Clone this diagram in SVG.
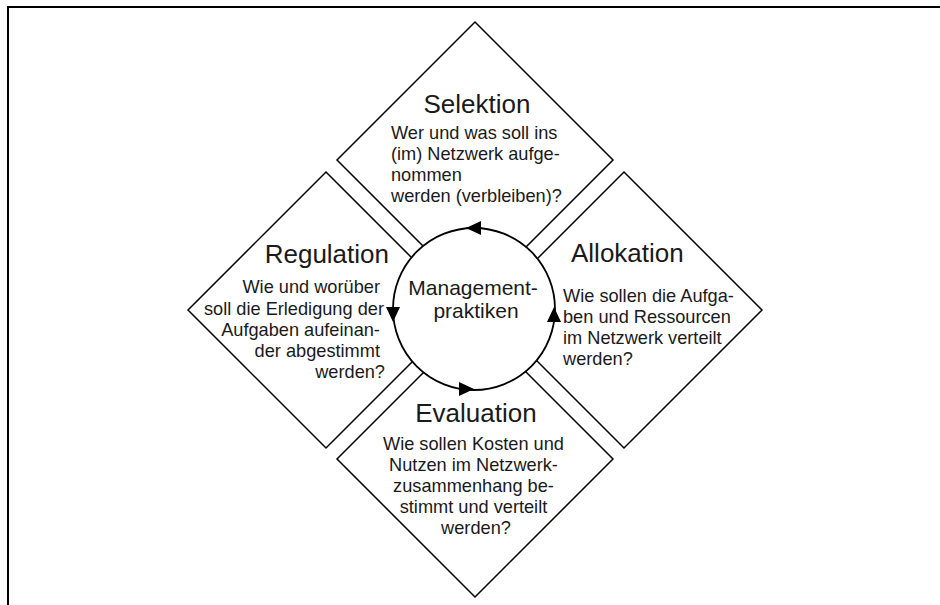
<svg xmlns="http://www.w3.org/2000/svg" width="940" height="605" viewBox="0 0 940 605">
<style>
.frame{fill:none;stroke:#000;stroke-width:2}
.dia{fill:#fff;stroke:#000;stroke-width:1.5;stroke-linejoin:miter}
.circ{fill:#fff;stroke:#000;stroke-width:1.8}
.title{font-family:"Liberation Sans",Arial,sans-serif;font-size:26px;fill:#1a1a1a}
.body{font-family:"Liberation Sans",Arial,sans-serif;font-size:18.2px;fill:#1a1a1a}
.center{font-family:"Liberation Sans",Arial,sans-serif;font-size:21px;fill:#1a1a1a}
.head{fill:#000;stroke:none}
</style>
<rect width="940" height="605" fill="#fff"/>
<polyline class="frame" points="8,605 8,7 940,7"/>

<g id="selektion">
<polygon class="dia" points="475,22 613,160 475,298 337,160"/>
<text class="title" x="477" y="113" text-anchor="middle">Selektion</text>
<text class="body" x="391">
<tspan x="391" y="139">Wer und was soll ins</tspan>
<tspan x="391" y="160">(im) Netzwerk aufge-</tspan>
<tspan x="391" y="181">nommen</tspan>
<tspan x="391" y="202">werden (verbleiben)?</tspan>
</text>
</g>

<g id="regulation">
<polygon class="dia" points="326,172 464,310 326,448 188,310"/>
<text class="title" x="389" y="263" text-anchor="end">Regulation</text>
<text class="body" text-anchor="end">
<tspan x="385" y="293">Wie und worüber</tspan>
<tspan x="389" y="315">soll die Erledigung der</tspan>
<tspan x="385" y="336">Aufgaben aufeinan-</tspan>
<tspan x="385" y="357">der abgestimmt</tspan>
<tspan x="385" y="378">werden?</tspan>
</text>
</g>

<g id="allokation">
<polygon class="dia" points="624,172 762,310 624,448 486,310"/>
<text class="title" x="571" y="262">Allokation</text>
<text class="body">
<tspan x="563" y="302">Wie sollen die Aufga-</tspan>
<tspan x="563" y="323">ben und Ressourcen</tspan>
<tspan x="563" y="344">im Netzwerk verteilt</tspan>
<tspan x="563" y="365">werden?</tspan>
</text>
</g>

<g id="evaluation">
<polygon class="dia" points="475,321 613,459 475,597 337,459"/>
<text class="title" x="476" y="422" text-anchor="middle">Evaluation</text>
<text class="body" text-anchor="middle">
<tspan x="476" y="450">Wie sollen Kosten und</tspan>
<tspan x="476" y="471">Nutzen im Netzwerk-</tspan>
<tspan x="476" y="492">zusammenhang be-</tspan>
<tspan x="476" y="513">stimmt und verteilt</tspan>
<tspan x="476" y="534">werden?</tspan>
</text>
</g>

<g id="managementpraktiken">
<circle class="circ" cx="474" cy="309" r="81"/>
<text class="center" text-anchor="middle">
<tspan x="476" y="295">Management-</tspan>
<tspan x="476" y="318">praktiken</tspan>
</text>
</g>

<g id="connectors">
<polygon class="head" points="466,228 481,221 481,235"/>
<polygon class="head" points="393,322 386,307 400,307"/>
<polygon class="head" points="474,389 459,382 459,396"/>
<polygon class="head" points="554,307 547,322 561,322"/>
</g>
</svg>
